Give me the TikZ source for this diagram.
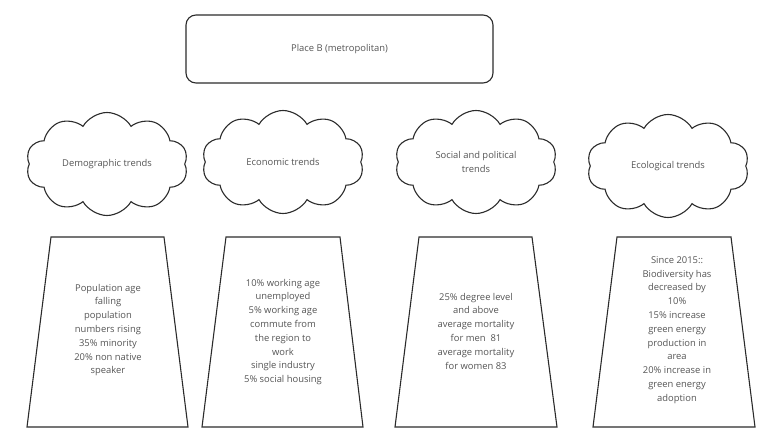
\documentclass[tikz,border=0pt]{standalone}
\usepackage{fontspec}
\setmainfont{Open Sans}
\usetikzlibrary{shapes.symbols}
\definecolor{txt}{HTML}{555555}
\definecolor{ln}{HTML}{2B2B2B}
\begin{document}
\begin{tikzpicture}[x=1pt,y=-1pt,
  lbl/.style={text=txt,font=\fontsize{9.4}{13.8}\selectfont,align=center},
  cloudbox/.style={cloud,cloud puffs=10,cloud puff arc=120,aspect=1.6,draw=ln,line width=1.1pt,minimum width=162pt,minimum height=103pt,inner sep=0pt},
  trap/.style={draw=ln,line width=1.1pt}]
\useasboundingbox (0,0) rectangle (768,439);
\node[draw=ln,line width=1.1pt,rounded corners=10pt,minimum width=307pt,minimum height=68pt,lbl] (place) at (339.5,49) {Place B (metropolitan)};

\node[cloudbox,lbl] (c1) at (107,164) {Demographic trends};
\node[cloudbox,lbl] (c2) at (283,162) {Economic trends};
\node[cloudbox,lbl] (c3) at (476,162) {Social and political\\trends};
\node[cloudbox,lbl] (c4) at (668,166) {Ecological trends};

\draw[trap] (51,237) -- (164,237) -- (188,427) -- (27,427) -- cycle;
\draw[trap] (226,237) -- (340,237) -- (363,427) -- (202,427) -- cycle;
\draw[trap] (419,237) -- (532,237) -- (557,427) -- (395,427) -- cycle;
\draw[trap] (617,237) -- (731,237) -- (755,427) -- (593,427) -- cycle;

\node[lbl] (t1) at (108,330) {Population age\\falling\\population\\numbers rising\\35\% minority\\20\% non native\\speaker};
\node[lbl] (t2) at (283,332) {10\% working age\\unemployed\\5\% working age\\commute from\\the region to\\work\\single industry\\5\% social housing};
\node[lbl] (t3) at (476,331) {25\% degree level\\and above\\average mortality\\for men~ 81\\average mortality\\for women 83};
\node[lbl] (t4) at (677,330) {Since 2015::\\Biodiversity has\\decreased by\\10\%\\15\% increase\\green energy\\production in\\area\\20\% increase in\\green energy\\adoption};
\end{tikzpicture}
\end{document}
